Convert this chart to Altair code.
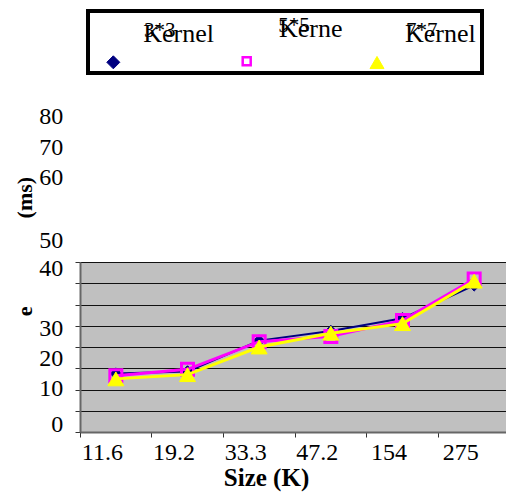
import altair as alt
import pandas as pd

# ---- data ----
sizes = ["11.6", "19.2", "33.3", "47.2", "154", "275"]
series = ["3*3 Kernel", "5*5 Kernel", "7*7 Kernel"]
k3 = [27.5, 28.5, 43.0, 47.5, 53.5, 69.0]
k5 = [26.5, 29.5, 42.5, 45.0, 52.5, 72.0]
k7 = [25.0, 27.0, 40.0, 46.5, 51.0, 71.0]
y_ticks = [0, 10, 20, 30, 40, 50, 60, 70, 80]
x_title = "Size (K)"
y_title_parts = ["e", "(ms)"]
legend_top = ["3*3", "5*5", "7*7"]
legend_bottom = ["Kernel", "Kerne", "Kernel"]

colors = ["#000080", "#FF00FF", "#FFFF00"]
FONT = "Liberation Serif, Times New Roman, Times, DejaVu Serif, serif"

rows = []
for name, vals in zip(series, [k3, k5, k7]):
    for s, v in zip(sizes, vals):
        rows.append({"size": s, "kernel": name, "time": v})
df = pd.DataFrame(rows)

# misplaced y labels as in the reference (pixel shift per tick)
shift = {0: -7.7, 10: -22.5, 20: -30.8, 30: -40.2, 40: -78.4,
         50: -85, 60: -126.6, 70: -136, 80: -145.6}
label_offset = {
    "condition": [{"test": f"datum.value == {k}", "value": v} for k, v in shift.items()],
    "value": 0,
}

x_enc = alt.X(
    "size:N", sort=sizes,
    scale=alt.Scale(type="band", paddingInner=0, paddingOuter=0, range=[0, 430]),
    axis=alt.Axis(
        title=x_title, bandPosition=0, labelOffset=-13.5, labelAngle=0,
        labelFont=FONT, labelFontSize=24, labelColor="black", labelPadding=3.5,
        tickSize=5, tickColor="#333333", domainColor="#666666", domainWidth=2,
        grid=False, titleFont=FONT, titleFontSize=25, titleFontWeight="bold",
        titleColor="black", titleX=186, titleY=53, titleAlign="center",
        titleBaseline="alphabetic", labelOverlap=False,
    ),
)
y_enc = alt.Y(
    "time:Q",
    scale=alt.Scale(domain=[0, 80], nice=False, zero=True),
    axis=alt.Axis(
        values=y_ticks, grid=True, gridColor="#111111", gridWidth=1,
        domainColor="#666666", domainWidth=2, tickColor="#333333", tickSize=5,
        labelFont=FONT, labelFontSize=24, labelColor="black", labelPadding=12.3,
        labelOverlap=False, labelFlush=False, labelOffset=label_offset,
        title=y_title_parts[0] + "\u00a0" * 16 + y_title_parts[1],
        titleFont=FONT, titleFontSize=22, titleFontWeight="bold", titleColor="black",
        titleAngle=270, titleAlign="center", titleBaseline="middle",
        titleX=-56, titleY=-16,
    ),
)

base = alt.Chart(df).encode(x=x_enc, y=y_enc)

line_w = [2, 3, 3]
pt_shape = ["diamond", "square", "triangle-up"]
pt_size = [130, 144, 256]
pt_fill = ["#000080", None, "#FFFF00"]
pt_sw = [1, 3, 1]

layers = []
for i, name in enumerate(series):
    sub = base.transform_filter(alt.datum.kernel == name)
    layers.append(sub.mark_line(color=colors[i], strokeWidth=line_w[i]))
    if pt_fill[i] is None:
        pm = sub.mark_point(shape=pt_shape[i], size=pt_size[i], filled=False,
                            stroke=colors[i], strokeWidth=pt_sw[i], opacity=1)
    else:
        pm = sub.mark_point(shape=pt_shape[i], size=pt_size[i], filled=True,
                            fill=pt_fill[i], stroke=pt_fill[i], strokeWidth=pt_sw[i], opacity=1)
    layers.append(pm)

# ---- legend box (custom, to match the reference's overlapping labels) ----
one = pd.DataFrame({"a": [0]})
frame = alt.Chart(one).mark_rect(fill="white", stroke="black", strokeWidth=4).encode(
    x=alt.value(8), x2=alt.value(402), y=alt.value(-251), y2=alt.value(-189))
layers.append(frame)

sym_x = [33.3, 166.7, 297]
sym_y = [-199.7, -200.7, -199.5]
sym_size = [169, 64, 196]
sym_fill = ["#000080", "white", "#FFFF00"]
sym_sw = [1, 2.5, 1]
for i in range(3):
    layers.append(alt.Chart(one).mark_point(
        shape=pt_shape[i], size=sym_size[i], filled=True, fill=sym_fill[i],
        stroke=colors[i] if i == 1 else sym_fill[i], strokeWidth=sym_sw[i], opacity=1
    ).encode(x=alt.value(sym_x[i]), y=alt.value(sym_y[i])))

top_x = [64, 198.3, 326]
top_y = [-225.5, -230.5, -225.5]
bot_x = [63.3, 199, 325]
bot_y = [-220, -225.5, -220.5]
for i in range(3):
    layers.append(alt.Chart(one).mark_text(
        text=legend_top[i], font=FONT, fontSize=21, color="black",
        align="left", baseline="alphabetic"
    ).encode(x=alt.value(top_x[i]), y=alt.value(top_y[i])))
    layers.append(alt.Chart(one).mark_text(
        text=legend_bottom[i], font=FONT, fontSize=26, color="black",
        align="left", baseline="alphabetic"
    ).encode(x=alt.value(bot_x[i]), y=alt.value(bot_y[i])))

chart = alt.layer(*layers).properties(
    width=426, height=170,
    autosize=alt.AutoSizeParams(type="none"),
    padding={"left": 80, "top": 262, "right": 0, "bottom": 64},
    background="white",
).configure_view(fill="#C0C0C0", stroke=None)

chart.save("out.html", embed_options={"renderer": "svg", "actions": False})
